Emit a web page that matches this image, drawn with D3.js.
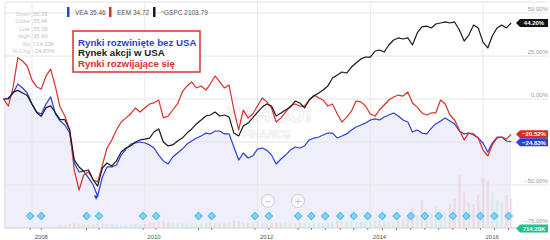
<!DOCTYPE html>
<html>
<head>
<meta charset="utf-8">
<script src="https://cdn.jsdelivr.net/npm/d3@7"></script>
<style>
  body { margin: 0; background: #fff; }
  svg { display: block; font-family: "Liberation Sans", Arial, sans-serif; }
</style>
</head>
<body>
<div id="maincontent"></div>
<script>
// monthly % change since Jul 2007
var vea = [0, 0.6, 3.5, 8.7, 6.4, 3.5, -2.9, -7.6, -8.7, -2.9,
  1.2, -8.7, -12.8, -15.1, -19.8, -37.2, -42.4, -41.9, -45.9, -50,
  -56.4, -45.3, -39.5, -39.5, -38.4, -32.6, -29.1, -26.2, -25.6, -25,
  -25.6, -26.7, -28.5, -32.6, -36, -37.8, -33.7, -31.4, -29.1, -26.2,
  -24.4, -22.7, -21.5, -19.8, -20.3, -18.6, -18.6, -20.3, -20.3, -27.9,
  -35.5, -31.4, -34.3, -33.1, -29.1, -28.5, -29.7, -32.6, -37.8, -34.9,
  -32.6, -29.7, -27.9, -28.5, -27.3, -23.8, -22.7, -22.1, -20.9, -19.8,
  -19.8, -22.7, -21.5, -20.3, -18, -16.3, -15.1, -14, -12.2, -11.6,
  -12.2, -10.5, -9.3, -8.1, -9.9, -12.2, -13.4, -19.2, -18, -19.8,
  -20.3, -16.9, -14.5, -12.8, -11, -12.8, -14.5, -18.6, -20.3, -19.8,
  -20.9, -22.7, -25.6, -30.8, -25.6, -22.1, -22.1, -24.4, -24.83];

var eem = [0, -4.1, 7, 24, 22.1, 19.2, 11, 7, 5.8, 13.4,
  17.4, 7, -4.7, -9.9, -18, -41.3, -52.9, -44.2, -42.4, -47.1,
  -48.3, -38.4, -28.5, -23.8, -18, -13.4, -11, -8.7, -5.2, -7.6,
  -5.2, -2.9, -2.3, -0.6, -11, -9.9, -6.4, -2.9, 4.1, 7.6,
  9.9, 6.4, 7.6, 5.2, 8.7, 13.4, 9.9, 6.4, 8.1, -6.4,
  -18, -6.4, -11, -8.7, -4.1, 0.6, -1.7, -5.2, -13.4, -11,
  -7.6, -4.1, -2.9, -4.1, -4.1, -0.6, 2.3, 0.6, -0.6, -4.1,
  -2.9, -8.7, -13.4, -10.5, -7, -1.2, -1.7, -4.1, -8.7, -9.9,
  -6.4, -3.5, -0.6, 1.2, 2.3, 1.7, 4.1, -2.3, -4.7, -8.1,
  -9.3, -8.1, -8.1, -0.6, -2.9, -9.3, -12.2, -18, -23.8, -19.8,
  -20.3, -22.7, -29.7, -33.1, -26.7, -22.7, -22.1, -23.3, -20.52];

var gspc = [0, 0, 4, 5, 3.5, 2, -3, -8, -10, -5,
  -4, -8, -12, -12, -18, -35.5, -39.5, -42, -41.3, -47.1,
  -50.6, -40.1, -37.2, -39, -36, -30.8, -28.5, -27.3, -25, -23.8,
  -23.3, -22.7, -19.2, -17.4, -25, -27.3, -26.7, -24.4, -22.7, -19.8,
  -17.4, -14.5, -12.2, -9.9, -9.3, -7.6, -9.9, -9.3, -10.5, -19.8,
  -21.5, -15.7, -14, -11, -7.6, -4.7, -2.9, -4.1, -9.9, -8.1,
  -6.4, -4.7, -1.2, -2.3, -5.2, -0.6, 1.7, 3.5, 5.2, 7.6,
  12.2, 14, 15.7, 15.1, 18.6, 20.9, 23.3, 24.4, 24.4, 27.9,
  28.5, 27.3, 31.4, 34.3, 35.5, 34.9, 35.5, 31.4, 38.4, 41.9,
  42.4, 41.3, 43.6, 44.2, 44.8, 44.2, 44.8, 40.1, 33.7, 37.2,
  43, 41.3, 33.1, 29.7, 36.6, 41.3, 43, 41.3, 44.2];

// VEA volume, thousands
var volume = [20, 20, 20, 20, 20, 20,
  20, 20, 20, 20, 30, 60, 150, 180, 220, 260, 200, 180,
  180, 200, 260, 220, 200, 180, 160, 170, 180, 200, 220, 180,
  250, 300, 280, 350, 400, 300, 280, 260, 250, 240, 260, 250,
  260, 280, 300, 260, 250, 260, 300, 420, 380, 300, 280, 260,
  280, 260, 250, 270, 320, 300, 280, 260, 250, 270, 260, 280,
  300, 320, 300, 320, 380, 420, 350, 360, 340, 320, 330, 350,
  380, 400, 420, 380, 360, 350, 380, 450, 600, 1100, 700, 1500,
  900, 800, 1200, 1000, 900, 1300, 1600, 2900, 2000, 1400, 1300, 1800,
  2700, 2600, 2000, 1500, 1400, 1800, 1600];

var dividends = ["2007-12-20", "2008-03-01", "2008-12-20", "2009-03-10", "2009-12-20",
  "2010-03-15", "2010-12-15", "2011-03-10", "2011-12-15", "2012-03-15", "2012-09-20",
  "2012-12-15", "2013-03-15", "2013-06-20", "2013-09-15", "2013-12-15", "2014-03-20",
  "2014-06-20", "2014-09-20", "2014-12-20", "2015-03-20", "2015-06-20", "2015-09-15",
  "2015-12-15", "2016-03-15", "2016-06-15"];

var yTicks = [50, 25, 0, -25, -50, -75];
var yLabels = [50, 25, 0, -50, -75];   // -25% sits under the value tags
var yearTicks = [2008, 2010, 2012, 2014, 2016];

var infoLabels = ["Open", "Close", "Low", "High", "Vol", "% Chg"];
var infoValues = ["35.39", "35.46", "35.39", "35.49", "714.20K", "-24.83%"];

var legend = [
  {name: "VEA 35.46", color: "#2b3fd6"},
  {name: "EEM 34.72", color: "#d8302b"},
  {name: "^GSPC 2103.79", color: "#1a1a1a"}
];
var boxLines = [
  {text: "Rynki rozwinięte bez USA", color: "#2b3fd6"},
  {text: "Rynek akcji w USA", color: "#1a1a1a"},
  {text: "Rynki rozwijające się", color: "#d8302b"}
];

var w = 550, h = 240;
var months = d3.timeMonth.range(new Date(2007, 6, 1), new Date(2016, 7, 1));
var parse = d3.timeParse("%Y-%m-%d");

var x = d3.scaleTime()
  .domain([new Date(2008, 0, 1), new Date(2016, 0, 1)])
  .range([32, 483]);
var y = d3.scaleLinear().domain([-75, 50]).range([228, 13]);
var yv = d3.scaleLinear().domain([0, 3000]).range([228, 173]);

var svg = d3.select("#maincontent").append("svg")
  .attr("width", w).attr("height", h);

// lavender area under VEA
svg.append("path")
  .datum(vea)
  .attr("fill", "#eeeffa")
  .attr("d", d3.area()
    .x(function(d, i) { return x(months[i]); })
    .y0(228)
    .y1(function(d) { return y(d); }));

// frame + grid
svg.append("line").attr("x1", 5).attr("x2", 548).attr("y1", 2).attr("y2", 2)
  .attr("stroke", "#e4e4e4");
svg.append("line").attr("x1", 5).attr("x2", 5).attr("y1", 2).attr("y2", 228)
  .attr("stroke", "#e4e4e4");
svg.selectAll("line.hgrid").data(yTicks).enter().append("line")
  .attr("class", "hgrid")
  .attr("x1", 5).attr("x2", 548)
  .attr("y1", function(d) { return y(d); })
  .attr("y2", function(d) { return y(d); })
  .attr("stroke", "#e6e6e6");
svg.selectAll("line.vgrid").data(yearTicks).enter().append("line")
  .attr("class", "vgrid")
  .attr("x1", function(d) { return x(new Date(d, 0, 1)); })
  .attr("x2", function(d) { return x(new Date(d, 0, 1)); })
  .attr("y1", 2).attr("y2", 228)
  .attr("stroke", "#e8e8e8");

// watermark
svg.append("text").attr("x", 226).attr("y", 122)
  .attr("font-size", 22).attr("font-weight", "bold")
  .attr("fill", "none").attr("stroke", "#e4e4ec").attr("stroke-width", 0.7)
  .text("YAHOO!");
svg.append("text").attr("x", 242).attr("y", 138)
  .attr("font-size", 11).attr("font-weight", "bold")
  .attr("fill", "none").attr("stroke", "#e4e4ec").attr("stroke-width", 0.5)
  .text("FINANCE");

// volume bars
svg.selectAll("rect.vol").data(volume).enter().append("rect")
  .attr("class", "vol")
  .attr("x", function(d, i) { return x(months[i]) - 1.2; })
  .attr("width", 2.4)
  .attr("y", function(d) { return yv(d); })
  .attr("height", function(d) { return 228 - yv(d); })
  .attr("fill", function(d, i) { return (i > 0 && vea[i] < vea[i - 1]) ? "#f0a8a8" : "#a6dfc2"; })
  .attr("opacity", 0.28);

// lines
var series = [[vea, "#2b3fd6"], [eem, "#d8302b"], [gspc, "#1a1a1a"]];
var line = d3.line()
  .x(function(d, i) { return x(months[i]); })
  .y(function(d) { return y(d); });
series.forEach(function(s) {
  svg.append("path").datum(s[0])
    .attr("fill", "none")
    .attr("stroke", s[1])
    .attr("stroke-width", 1.2)
    .attr("stroke-linejoin", "round")
    .attr("d", line);
});

// zoom buttons
[[268, "−"], [298, "+"]].forEach(function(b) {
  svg.append("circle").attr("cx", b[0]).attr("cy", 201).attr("r", 6.5)
    .attr("fill", "#fff").attr("fill-opacity", 0.6)
    .attr("stroke", "#cfcfcf");
  svg.append("text").attr("x", b[0]).attr("y", 204.5)
    .attr("text-anchor", "middle").attr("font-size", 11).attr("fill", "#c4c4c4")
    .text(b[1]);
});

// split marker
svg.append("path")
  .attr("d", d3.symbol(d3.symbolTriangle, 10))
  .attr("transform", "translate(" + x(parse("2009-02-20")) + ",197) rotate(180)")
  .attr("fill", "#2b3fd6");

// bottom axis
svg.append("line").attr("x1", 5).attr("x2", 518).attr("y1", 228).attr("y2", 228)
  .attr("stroke", "#d8d8d8");
var xAxis = d3.axisBottom(x)
  .tickValues(yearTicks.map(function(d) { return new Date(d, 0, 1); }))
  .tickFormat(d3.timeFormat("%Y"))
  .tickSize(0);
var gx = svg.append("g").attr("transform", "translate(0,228)").call(xAxis);
gx.select(".domain").remove();
gx.selectAll("text")
  .attr("text-anchor", "start").attr("dx", 2).attr("dy", 7.5)
  .attr("font-size", 6).attr("fill", "#555");

// dividend diamonds
svg.selectAll("line.dtick").data(dividends).enter().append("line")
  .attr("class", "dtick")
  .attr("x1", function(d) { return x(parse(d)); })
  .attr("x2", function(d) { return x(parse(d)); })
  .attr("y1", 228).attr("y2", 230)
  .attr("stroke", "#888");
svg.selectAll("path.div").data(dividends).enter().append("path")
  .attr("class", "div")
  .attr("d", d3.symbol(d3.symbolSquare, 40))
  .attr("transform", function(d) { return "translate(" + x(parse(d)) + ",216) rotate(45)"; })
  .attr("fill", "#5cc3ef");
svg.selectAll("circle.div").data(dividends).enter().append("circle")
  .attr("class", "div")
  .attr("cx", function(d) { return x(parse(d)); })
  .attr("cy", 216).attr("r", 1.4)
  .attr("fill", "none").attr("stroke", "#fff").attr("stroke-width", 0.6)
  .attr("opacity", 0.7);

// right axis labels
svg.selectAll("text.ylab").data(yLabels).enter().append("text")
  .attr("class", "ylab")
  .attr("x", 548)
  .attr("y", function(d) { return d === -75 ? y(d) - 5 : y(d) - 2; })
  .attr("text-anchor", "end")
  .attr("font-size", 6).attr("fill", "#999")
  .text(function(d) { return d3.format(".2f")(d) + "%"; });

// value tags on the right
function tag(cy, color, label) {
  svg.append("path")
    .attr("d", "M516," + cy + "L520," + (cy - 4) + "L548," + (cy - 4) +
      "L548," + (cy + 4) + "L520," + (cy + 4) + "Z")
    .attr("fill", color);
  svg.append("text").attr("x", 534).attr("y", cy + 2.2)
    .attr("text-anchor", "middle").attr("font-size", 6).attr("font-weight", "bold")
    .attr("fill", "#fff").text(label);
}
tag(y(gspc[gspc.length - 1]), "#111", d3.format(".2f")(gspc[gspc.length - 1]) + "%");
tag(y(eem[eem.length - 1]), "#dc2a20", d3.format(".2f")(eem[eem.length - 1]) + "%");
tag(y(vea[vea.length - 1]) + 0.6, "#2a3fe0", d3.format(".2f")(vea[vea.length - 1]) + "%");
tag(228.5, "#22c28b", infoValues[4]);

// info panel, top left
svg.selectAll("text.ilab").data(infoLabels).enter().append("text")
  .attr("class", "ilab")
  .attr("x", 30).attr("y", function(d, i) { return 15.5 + i * 7.5; })
  .attr("text-anchor", "end").attr("font-size", 5.8).attr("fill", "#c6c6c6")
  .text(function(d) { return d; });
svg.selectAll("text.ival").data(infoValues).enter().append("text")
  .attr("class", "ival")
  .attr("x", 33).attr("y", function(d, i) { return 15.5 + i * 7.5; })
  .attr("font-size", 5.8).attr("fill", "#c0c0c0")
  .text(function(d) { return d; });

// legend
var lx = [67, 109, 153];
legend.forEach(function(l, i) {
  svg.append("rect").attr("x", lx[i]).attr("y", 7).attr("width", 2.5).attr("height", 10)
    .attr("fill", l.color);
  svg.append("text").attr("x", lx[i] + 8).attr("y", 14.5)
    .attr("font-size", 6.5).attr("fill", "#555").text(l.name);
});

// annotation box
svg.append("rect").attr("x", 73).attr("y", 31).attr("width", 127).attr("height", 41)
  .attr("fill", "#fff").attr("stroke", "#d9312b").attr("stroke-width", 1.5);
boxLines.forEach(function(l, i) {
  svg.append("text").attr("x", 78).attr("y", 45.5 + i * 10.7)
    .attr("font-size", 9.7).attr("font-weight", "bold")
    .attr("fill", l.color).text(l.text);
});
</script>
</body>
</html>
